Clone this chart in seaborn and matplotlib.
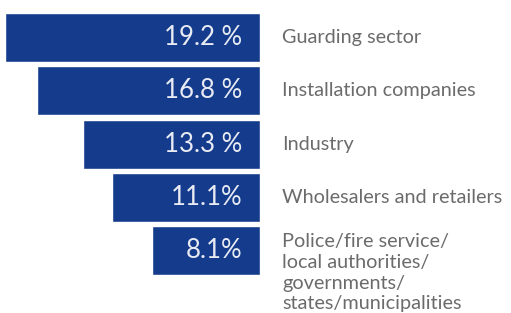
import matplotlib.pyplot as plt
import seaborn as sns
import pandas as pd

sns.set_theme(style="white")
plt.rcParams["font.family"] = ["Lato", "DejaVu Sans"]

# ── Data ─────────────────────────────────────────────────────────────────────
categories = ["Guarding sector", "Installation companies", "Industry",
              "Wholesalers and retailers",
              "Police/fire service/\nlocal authorities/\ngovernments/\nstates/municipalities"]
shares = [19.2, 16.8, 13.3, 11.1, 8.1]
value_labels = ["19.2 %", "16.8 %", "13.3 %", "11.1%", "8.1%"]

df = pd.DataFrame({"category": categories, "share": shares})

BAR_COLOR = "#153c8c"
TEXT_GREY = "#6b6b6b"

fig = plt.figure(figsize=(5.11, 3.13), dpi=100)
ax = fig.add_axes([0, 0, 1, 1])

sns.barplot(data=df, x="share", y="category", orient="h", color=BAR_COLOR,
            width=0.92, saturation=1, ax=ax)

# bars grow leftwards from a common right edge
ax.set_xlim(19.55, -18.87)
ax.set_ylim(5.17, -0.703)
ax.axis("off")

for i, (cat, lab) in enumerate(zip(categories, value_labels)):
    ax.text(1.35, i, lab, ha="right", va="center", color="#e8ebf3",
            fontsize=18.5, fontweight="normal")
    if "\n" in cat:
        ax.text(-1.65, i - 0.33, cat, ha="left", va="top", color=TEXT_GREY,
                fontsize=14.3, linespacing=1.27)
    else:
        ax.text(-1.65, i, cat, ha="left", va="center", color=TEXT_GREY,
                fontsize=14.3)

plt.savefig("out.png", dpi=100)
